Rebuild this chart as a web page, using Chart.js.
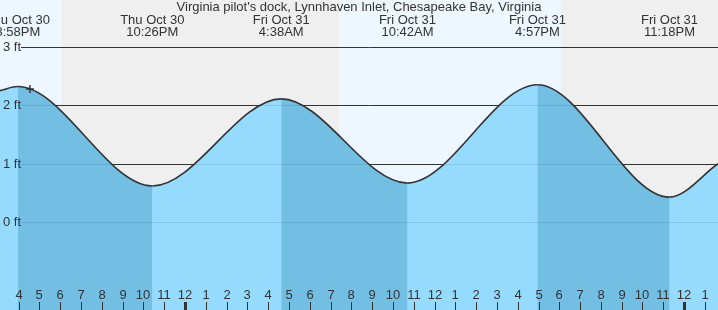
<!DOCTYPE html>
<html>
<head>
<meta charset="utf-8">
<script src="https://cdn.jsdelivr.net/npm/chart.js@4.4.1/dist/chart.umd.min.js"></script>
<style>
    html, body { margin: 0; padding: 0; background: #fff; }
    canvas { display: block; }
</style>
</head>
<body>
<canvas id="chart" width="718" height="310"></canvas>
<script>
// hours are counted from Thu Oct 30 00:00
const title = "Virginia pilot's dock, Lynnhaven Inlet, Chesapeake Bay, Virginia";

const tideTimes = [15.967, 22.433, 28.633, 34.7, 40.95, 47.3];
const tideHeights = [2.32, 0.62, 2.11, 0.67, 2.35, 0.43];
const tideDays = ['Thu Oct 30', 'Thu Oct 30', 'Fri Oct 31', 'Fri Oct 31', 'Fri Oct 31', 'Fri Oct 31'];
const tideClock = ['3:58PM', '10:26PM', '4:38AM', '10:42AM', '4:57PM', '11:18PM'];

// curve height where it leaves the picture on each side
const edgeTimes = [15.11, 49.63];
const edgeHeights = [2.25, 1.0];

// night: sunset -> sunrise
const nightStart = [18.09, 42.08];
const nightEnd = [31.41, 49.63];

const nowTime = [16.55];
const nowHeight = [2.28];

const feetTicks = [0, 1, 2, 3];
const feetLabels = ['0 ft', '1 ft', '2 ft', '3 ft'];

const hourTicks = [16, 17, 18, 19, 20, 21, 22, 23, 24, 25, 26, 27, 28, 29, 30, 31, 32,
    33, 34, 35, 36, 37, 38, 39, 40, 41, 42, 43, 44, 45, 46, 47, 48, 49];
const hourLabels = ['4', '5', '6', '7', '8', '9', '10', '11', '12', '1', '2', '3', '4',
    '5', '6', '7', '8', '9', '10', '11', '12', '1', '2', '3', '4', '5', '6', '7', '8',
    '9', '10', '11', '12', '1'];

const FONT = '13px "Liberation Sans", Arial, sans-serif';
const TEXT = '#333';
const lightFill = '#95dbfd';
const darkFill = '#72bfe3';

const curve = [{ x: edgeTimes[0], y: edgeHeights[0] }]
    .concat(tideTimes.map((t, i) => ({ x: t, y: tideHeights[i] })))
    .concat([{ x: edgeTimes[1], y: edgeHeights[1] }]);

const backdrop = {
    id: 'backdrop',
    beforeDraw(chart) {
        const { ctx, chartArea: a, scales: { x, y } } = chart;
        ctx.save();
        ctx.fillStyle = '#eef7ff';
        ctx.fillRect(a.left, a.top, a.right - a.left, a.bottom - a.top);
        ctx.fillStyle = '#efefef';
        nightStart.forEach((s, i) => {
            const x0 = x.getPixelForValue(s);
            const x1 = x.getPixelForValue(nightEnd[i]);
            ctx.fillRect(x0, a.top, x1 - x0, a.bottom - a.top);
        });
        // height lines
        ctx.strokeStyle = '#333';
        ctx.lineWidth = 1;
        feetTicks.forEach(f => {
            const py = Math.round(y.getPixelForValue(f)) + 0.5;
            ctx.beginPath();
            ctx.moveTo(21, py);
            ctx.lineTo(a.right, py);
            ctx.stroke();
        });
        ctx.restore();
    },
    // faint height lines seen through the water, before the curve is stroked
    beforeDatasetDraw(chart, args) {
        if (args.index !== 1) return;
        const { ctx, chartArea: a, scales: { y } } = chart;
        const line = chart.getDatasetMeta(0).dataset;
        ctx.save();
        ctx.beginPath();
        line.path(ctx);
        ctx.lineTo(a.right, a.bottom);
        ctx.lineTo(a.left, a.bottom);
        ctx.closePath();
        ctx.clip();
        ctx.strokeStyle = 'rgba(0, 60, 110, 0.12)';
        ctx.lineWidth = 1;
        feetTicks.forEach(f => {
            const py = Math.round(y.getPixelForValue(f)) + 0.5;
            ctx.beginPath();
            ctx.moveTo(21, py);
            ctx.lineTo(a.right, py);
            ctx.stroke();
        });
        ctx.restore();
    }
};

const labels = {
    id: 'labels',
    afterDraw(chart) {
        const { ctx, chartArea: a, scales: { x, y } } = chart;
        ctx.save();
        ctx.font = FONT;
        ctx.fillStyle = TEXT;
        ctx.textBaseline = 'alphabetic';
        ctx.textAlign = 'center';
        ctx.fillText(title, 359, 11);
        tideTimes.forEach((t, i) => {
            const px = x.getPixelForValue(t);
            ctx.fillText(tideDays[i], px, 24);
            ctx.fillText(tideClock[i], px, 36);
        });

        ctx.textAlign = 'left';
        ctx.textBaseline = 'middle';
        feetTicks.forEach((f, i) => {
            ctx.fillText(feetLabels[i], 3, y.getPixelForValue(f) + 0.5);
        });

        ctx.textAlign = 'center';
        ctx.textBaseline = 'alphabetic';
        hourTicks.forEach((h, i) => {
            const px = Math.round(x.getPixelForValue(h));
            ctx.fillText(hourLabels[i], px, 299);
            const w = h % 24 === 0 ? 3 : 1;
            ctx.fillRect(px - Math.floor(w / 2), 302, w, a.bottom - 302);
        });
        ctx.restore();
    }
};

new Chart(document.getElementById('chart').getContext('2d'), {
    type: 'line',
    data: {
        datasets: [{
            // light water everywhere under the curve
            data: curve,
            order: 3,
            borderWidth: 0,
            borderColor: 'rgba(0,0,0,0)',
            pointRadius: 0,
            cubicInterpolationMode: 'monotone',
            fill: 'start',
            backgroundColor: lightFill
        }, {
            // falling tide shaded darker, plus the curve itself
            data: curve,
            order: 2,
            borderColor: '#333',
            borderWidth: 1.6,
            pointRadius: 0,
            cubicInterpolationMode: 'monotone',
            fill: 'start',
            backgroundColor: 'rgba(0,0,0,0)',
            segment: {
                backgroundColor: c => c.p1.parsed.y < c.p0.parsed.y ? darkFill : 'rgba(0,0,0,0)'
            }
        }, {
            data: nowTime.map((t, i) => ({ x: t, y: nowHeight[i] })),
            order: 1,
            showLine: false,
            fill: false,
            pointStyle: 'cross',
            pointRadius: 4,
            borderColor: '#333',
            borderWidth: 1.5
        }]
    },
    options: {
        responsive: false,
        animation: false,
        devicePixelRatio: 1,
        layout: { padding: 0, autoPadding: false },
        plugins: {
            legend: { display: false },
            tooltip: { enabled: false },
            title: { display: false }
        },
        scales: {
            x: { type: 'linear', min: edgeTimes[0], max: edgeTimes[1], display: false },
            y: { type: 'linear', min: -1.5, max: 3.8, display: false }
        }
    },
    plugins: [backdrop, labels]
});
</script>
</body>
</html>
